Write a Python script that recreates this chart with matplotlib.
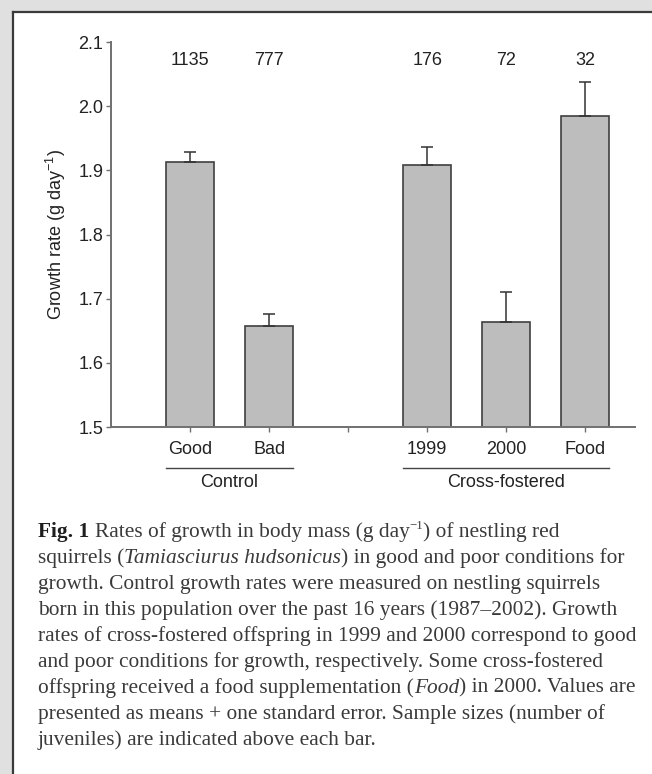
import matplotlib
matplotlib.use("Agg")
import matplotlib.pyplot as plt
from matplotlib.transforms import IdentityTransform
from matplotlib.lines import Line2D
from matplotlib.patches import Rectangle

plt.rcParams['font.family'] = ['Liberation Sans', 'DejaVu Sans']
plt.rcParams['mathtext.fontset'] = 'custom'
plt.rcParams['mathtext.rm'] = 'Liberation Sans'
plt.rcParams['mathtext.it'] = 'Liberation Sans:italic'

# data
labels = ["Good", "Bad", "1999", "2000", "Food"]
positions = [1, 2, 4, 5, 6]
means = [1.913, 1.657, 1.908, 1.664, 1.985]
se = [0.015, 0.019, 0.028, 0.047, 0.053]
sample_sizes = ["1135", "777", "176", "72", "32"]
groups = ["Control", "Cross-fostered"]
group_members = [[1, 2], [4, 5, 6]]

W, H = 652, 774
fig = plt.figure(figsize=(W / 100, H / 100), dpi=100, facecolor='#e0e0e0')

# white panel with dark left/top border
fig.patches.append(Rectangle((13 / W, 0), 1, 1 - 12 / H, transform=fig.transFigure,
                             facecolor='white', edgecolor='none', zorder=-10))
fig.lines.append(Line2D([13 / W, 13 / W], [0, 1 - 12 / H], transform=fig.transFigure,
                        color='#3a3a3a', lw=1.6, zorder=-5))
fig.lines.append(Line2D([13 / W, 1], [1 - 12 / H, 1 - 12 / H], transform=fig.transFigure,
                        color='#3a3a3a', lw=1.6, zorder=-5))

ax = fig.add_axes([111 / W, 1 - 427 / H, 524 / W, 385 / H])
ax.set_facecolor('none')

ink = '#222222'
axcol = '#707070'
fs = 13

ax.bar(positions, means, width=0.6, color='#bdbdbd', edgecolor='#404040', linewidth=1.2,
       zorder=2)
ax.errorbar(positions, means, yerr=[[0] * len(se), se], fmt='none', ecolor='#333333',
            elinewidth=1.1, capsize=4, capthick=1.1, zorder=3)

for p, n in zip(positions, sample_sizes):
    ax.text(p, 2.071, n, ha='center', va='center', fontsize=fs, color=ink)

ax.set_xlim(0, 6.63)
ax.set_ylim(1.5, 2.1)
ax.set_yticks([1.5, 1.6, 1.7, 1.8, 1.9, 2.0, 2.1])
ax.set_xticks([1, 2, 3, 4, 5, 6])
ax.set_xticklabels(["Good", "Bad", "", "1999", "2000", "Food"])

for s in ['top', 'right']:
    ax.spines[s].set_visible(False)
for s in ['left', 'bottom']:
    ax.spines[s].set_color(axcol)
    ax.spines[s].set_linewidth(1.4)
ax.tick_params(axis='y', length=3.6, width=1.0, color=axcol, pad=2, labelsize=fs,
               labelcolor=ink)
ax.tick_params(axis='x', length=3.6, width=1.0, color=axcol, pad=6.5, labelsize=fs,
               labelcolor=ink)

ax.set_ylabel("Growth rate (g day$^{-1}$)", fontsize=fs, color=ink, labelpad=7)

# group underlines and labels
trans = ax.get_xaxis_transform()
for g, members in zip(groups, group_members):
    x0, x1 = members[0] - 0.3, members[-1] + 0.3
    ax.plot([x0, x1], [-0.106, -0.106], transform=trans, color='#444444', lw=1.0,
            clip_on=False)
    ax.text((members[0] + members[-1]) / 2, -0.143, g, transform=trans, ha='center',
            va='center', fontsize=fs, color=ink)

# caption, drawn piece by piece in pixel coordinates
renderer = fig.canvas.get_renderer()
cap_size = 15.4
cap_col = '#3a3a3a'
reg = dict(family='Liberation Serif', fontsize=cap_size, color=cap_col)
bold = dict(reg, weight='bold', color='#1e1e1e')
ital = dict(reg, style='italic')
sup = dict(reg, fontsize=cap_size * 0.6)


def width(s, kw):
    t = fig.text(0, 0, s, transform=IdentityTransform(), **kw)
    w = t.get_window_extent(renderer).width
    t.remove()
    return w


space = width("a a", reg) - width("aa", reg)

caption = [
    [("Fig. 1", bold, 0), (" ", reg, 0), ("Rates of growth in body mass (g day", reg, 0),
     ("\u22121", sup, 8), (") of nestling red", reg, 0)],
    [("squirrels (", reg, 0), ("Tamiasciurus hudsonicus", ital, 0),
     (") in good and poor conditions for", reg, 0)],
    [("growth. Control growth rates were measured on nestling squirrels", reg, 0)],
    [("born in this population over the past 16 years (1987\u20132002). Growth", reg, 0)],
    [("rates of cross-fostered offspring in 1999 and 2000 correspond to good", reg, 0)],
    [("and poor conditions for growth, respectively. Some cross-fostered", reg, 0)],
    [("offspring received a food supplementation (", reg, 0), ("Food", ital, 0),
     (") in 2000. Values are", reg, 0)],
    [("presented as means + one standard error. Sample sizes (number of", reg, 0)],
    [("juveniles) are indicated above each bar.", reg, 0)],
]

x_start = 38
y_base = H - 536.7
line_gap = 26.0
for i, line in enumerate(caption):
    x = x_start
    y = y_base - i * line_gap
    for s, kw, rise in line:
        if s == " ":
            x += space
            continue
        t = fig.text(x, y + rise, s, transform=IdentityTransform(), va='baseline',
                     ha='left', **kw)
        x += t.get_window_extent(renderer).width

fig.savefig("out.png", dpi=100, facecolor=fig.get_facecolor())
